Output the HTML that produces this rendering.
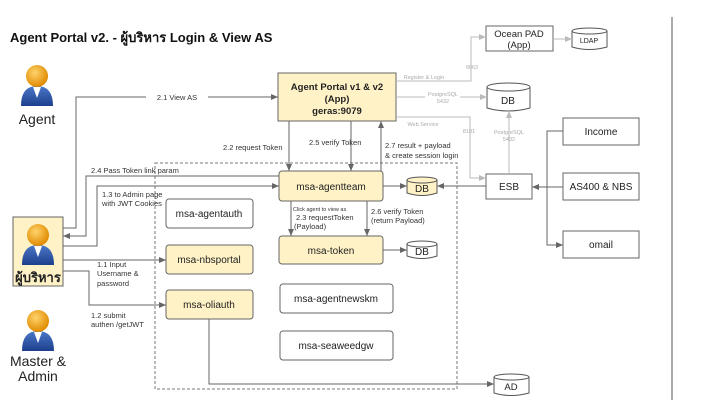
<!DOCTYPE html>
<html><head><meta charset="utf-8"><style>
body{margin:0;background:#fff}
svg{display:block;font-family:"Liberation Sans","Noto Sans CJK SC",sans-serif}
</style></head><body>
<svg width="704" height="406" viewBox="0 0 704 406" xmlns="http://www.w3.org/2000/svg">
<defs>
<marker id="a" markerWidth="8" markerHeight="8" refX="7" refY="4" orient="auto" markerUnits="userSpaceOnUse"><path d="M0,1 L7,4 L0,7z" fill="#666"/></marker>
<marker id="g" markerWidth="8" markerHeight="8" refX="7" refY="4" orient="auto" markerUnits="userSpaceOnUse"><path d="M0,1 L7,4 L0,7z" fill="#bbb"/></marker>
<radialGradient id="hd" cx="40%" cy="35%" r="65%"><stop offset="0" stop-color="#ffd36b"/><stop offset="1" stop-color="#e08a00"/></radialGradient>
<linearGradient id="bd" x1="0" y1="0" x2="0" y2="1"><stop offset="0" stop-color="#4a78c8"/><stop offset="1" stop-color="#1d3f8c"/></linearGradient>
<g id="person">
<path d="M-16,40 Q-16,20 0,20 Q16,20 16,40z" fill="url(#bd)"/>
<path d="M-4,21 L0,32 L4,21z" fill="#fff"/>
<circle cx="0" cy="10" r="11" fill="url(#hd)"/>
</g>
</defs>
<line x1="672" y1="17" x2="672" y2="400" stroke="#555" stroke-width="1"/>
<text x="10" y="42" font-size="13" font-weight="bold" fill="#111">Agent Portal v2. - ผู้บริหาร Login &amp; View AS</text>

<use href="#person" x="37" y="66"/>
<text x="37" y="124" font-size="14" text-anchor="middle" fill="#222">Agent</text>

<rect x="13" y="217" width="50" height="69" fill="#fff2c6" stroke="#666"/>
<use href="#person" x="38" y="225"/>
<text x="38" y="282" font-size="13" font-weight="bold" text-anchor="middle" fill="#222">ผู้บริหาร</text>

<use href="#person" x="38" y="311"/>
<text x="38" y="366" font-size="14" text-anchor="middle" fill="#222">Master &amp;</text>
<text x="38" y="381" font-size="14" text-anchor="middle" fill="#222">Admin</text>

<rect x="155" y="163" width="302" height="226" fill="none" stroke="#777" stroke-dasharray="3,2"/>

<g stroke="#666" fill="none">
<rect x="278" y="73" width="118" height="48" fill="#fff2c6"/>
<rect x="279" y="171" width="104" height="30" rx="3" fill="#fff2c6"/>
<rect x="279" y="236" width="104" height="28" rx="3" fill="#fff2c6"/>
<rect x="166" y="199" width="87" height="29" rx="3" fill="#fff"/>
<rect x="166" y="245" width="87" height="29" rx="3" fill="#fff2c6"/>
<rect x="166" y="290" width="87" height="29" rx="3" fill="#fff2c6"/>
<rect x="280" y="284" width="113" height="29" rx="3" fill="#fff"/>
<rect x="280" y="331" width="113" height="29" rx="3" fill="#fff"/>
<rect x="486" y="26" width="67" height="25" fill="#fff"/>
<rect x="486" y="174" width="46" height="25" fill="#fff"/>
<rect x="563" y="118" width="76" height="27" fill="#fff"/>
<rect x="563" y="173" width="76" height="27" fill="#fff"/>
<rect x="563" y="231" width="76" height="27" fill="#fff"/>
</g>
<g stroke="#555">
<path d="M487,87 L487,108 Q508,114 530,108 L530,87" fill="#fff"/><ellipse cx="508.5" cy="87" rx="21.5" ry="4" fill="#fff"/>
<path d="M572,31 L572,47 Q589,52 607,47 L607,31" fill="#fff"/><ellipse cx="589.5" cy="31" rx="17.5" ry="3" fill="#fff"/>
<path d="M407,180 L407,193 Q422,198 437,193 L437,180" fill="#fff2c6"/><ellipse cx="422" cy="180" rx="15" ry="3" fill="#fff2c6"/>
<path d="M407,244 L407,256 Q422,261 437,256 L437,244" fill="#fff"/><ellipse cx="422" cy="244" rx="15" ry="3" fill="#fff"/>
<path d="M494,377 L494,393 Q511,398 529,393 L529,377" fill="#fff"/><ellipse cx="511.5" cy="377" rx="17.5" ry="3" fill="#fff"/>
</g>

<g font-size="9.5" fill="#222" text-anchor="middle" font-weight="bold">
<text x="337" y="90">Agent Portal v1 &amp; v2</text>
<text x="337" y="102">(App)</text>
<text x="337" y="114">geras:9079</text>
</g>
<g font-size="10" fill="#222" text-anchor="middle">
<text x="331" y="190">msa-agentteam</text>
<text x="331" y="254">msa-token</text>
<text x="209" y="217">msa-agentauth</text>
<text x="209" y="263">msa-nbsportal</text>
<text x="209" y="308">msa-oliauth</text>
<text x="336" y="302">msa-agentnewskm</text>
<text x="336" y="349">msa-seaweedgw</text>
<text x="519" y="37" font-size="9.5">Ocean PAD</text>
<text x="519" y="48" font-size="9.5">(App)</text>
<text x="509" y="190">ESB</text>
<text x="601" y="135">Income</text>
<text x="601" y="190">AS400 &amp; NBS</text>
<text x="601" y="248">omail</text>
<text x="508" y="104">DB</text>
<text x="422" y="192">DB</text>
<text x="422" y="255">DB</text>
<text x="511" y="390" font-size="9.5">AD</text>
<text x="589" y="43" font-size="7">LDAP</text>
</g>

<g stroke="#666" fill="none" stroke-width="1">
<path d="M63,228 H76 V97 H146 M208,97 H278" marker-end="url(#a)"/>
<path d="M279,176 H86 V236 H63" marker-end="url(#a)"/>
<path d="M63,246 H97 V186 H279" marker-end="url(#a)"/>
<path d="M63,260 H166" marker-end="url(#a)"/>
<path d="M63,271 H89 V305 H166" marker-end="url(#a)"/>
<path d="M289,121 V171" marker-end="url(#a)"/>
<path d="M351,121 V171" marker-end="url(#a)"/>
<path d="M381,171 V121" marker-end="url(#a)"/>
<path d="M291,201 V236" marker-end="url(#a)"/>
<path d="M367,201 V236" marker-end="url(#a)"/>
<path d="M383,186 H407" marker-end="url(#a)"/>
<path d="M486,186 H437" marker-end="url(#a)"/>
<path d="M383,250 H407" marker-end="url(#a)"/>
<path d="M209,319 V384 H494" marker-end="url(#a)"/>
<path d="M563,187 H532" marker-end="url(#a)"/>
<path d="M563,131 H547 V245 H563" marker-end="url(#a)"/>
</g>
<g stroke="#bbb" fill="none">
<path d="M396,81 H471 V37 H486" marker-end="url(#g)"/>
<path d="M396,97 H425 M460,97 H487" marker-end="url(#g)"/>
<path d="M396,117 H470 V178 H486" marker-end="url(#g)"/>
<path d="M509,174 V111" marker-end="url(#g)"/>
<path d="M553,39 H572" marker-end="url(#g)"/>
</g>
<g font-size="5.5" fill="#aaa" text-anchor="middle">
<text x="424" y="79">Register &amp; Login</text>
<text x="472" y="69">9063</text>
<text x="443" y="96">PostgreSQL</text>
<text x="443" y="103">5432</text>
<text x="423" y="126">Web Service</text>
<text x="469" y="133">8181</text>
<text x="509" y="134">PostgreSQL</text>
<text x="509" y="141">5432</text>
</g>

<g font-size="7.5" fill="#333">
<text x="177" y="100" text-anchor="middle">2.1 View AS</text>
<text x="223" y="150">2.2 request Token</text>
<text x="309" y="145">2.5 verify Token</text>
<text x="385" y="148">2.7 result + payload</text>
<text x="385" y="158">&amp; create session login</text>
<text x="91" y="173">2.4 Pass Token link param</text>
<text x="102" y="197">1.3 to Admin page</text>
<text x="102" y="206">with JWT Cookies</text>
<text x="97" y="267">1.1 Input</text>
<text x="97" y="276">Username &amp;</text>
<text x="97" y="286">password</text>
<text x="91" y="318">1.2 submit</text>
<text x="91" y="327">authen /getJWT</text>
<text x="293" y="211" font-size="5.5">Click agent to view as</text>
<text x="296" y="220">2.3 requestToken</text>
<text x="294" y="229">(Payload)</text>
<text x="371" y="214">2.6 verify Token</text>
<text x="371" y="223">(return Payload)</text>
</g>
</svg>
</body></html>
